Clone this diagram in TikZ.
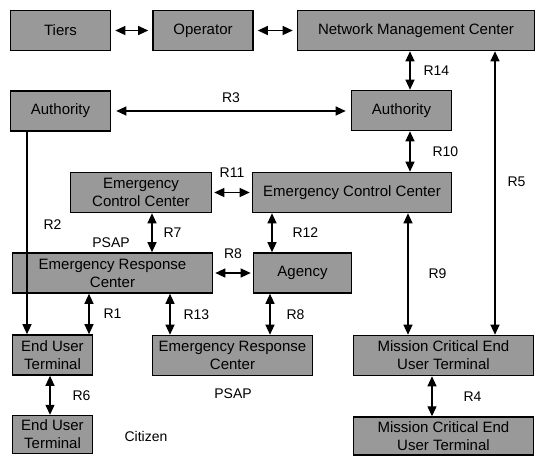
\documentclass[tikz,border=0pt]{standalone}
\usepackage{fontspec}
\setmainfont{Liberation Sans}
\usetikzlibrary{positioning,arrows.meta}
\newcommand\diafont{\fontsize{15}{18}\selectfont}
\newcommand\lblfont{\fontsize{14}{16}\selectfont}

\begin{document}
\begin{tikzpicture}
[x=1pt,y=-1pt,
 box/.style={draw,line width=1.6pt,fill=black!40,inner sep=0pt,align=center,
   minimum height=40pt,font=\diafont},
 lbl/.style={inner sep=0pt,font=\lblfont},
 dbl/.style={line width=1.2pt,{Triangle[length=10pt,width=9pt]}-{Triangle[length=10pt,width=9pt]}},
 one/.style={line width=1.2pt,-{Triangle[length=10pt,width=9pt]}},
 gap/.style={shorten <=4pt,shorten >=4pt}]
\useasboundingbox (0,0) rectangle (544,456);
\node[box,minimum width=100pt](tiers) at (60.5,30.5){Tiers};
\node[box,minimum width=100pt](oper) at (203,30.5){Operator};
\node[box,minimum width=237pt](nmc) at (416,30.5){Network Management Center};
\node[box,minimum width=100pt](authL) at (60.5,111){Authority};
\node[box,minimum width=100pt](authR) at (401.5,110.5){Authority};
\node[box,minimum width=141pt](eccL) at (141,192.5){Emergency\\Control Center};
\node[box,minimum width=199pt](eccR) at (352,192.5){Emergency Control Center};
\node[box,minimum width=200pt](ercU) at (112.5,273){Emergency Response\\Center};
\node[box,minimum width=98pt](agency) at (302.5,273){Agency};
\node[box,minimum width=80pt](eutU) at (52.5,355){End User\\Terminal};
\node[box,minimum width=160pt](ercL) at (232.5,355.5){Emergency Response\\Center};
\node[box,minimum width=180pt](mcU) at (443.5,355.5){Mission Critical End\\User Terminal};
\node[box,minimum width=80pt,minimum height=38pt,below=39pt of eutU](eutL){End User\\Terminal};
\node[box,minimum width=180pt,minimum height=38pt,below=40pt of mcU](mcL){Mission Critical End\\User Terminal};
\node[lbl](psapU) at (111,243){PSAP};
\node[lbl](psapL) at (233,394){PSAP};
\node[lbl](citizen) at (146,436){Citizen};
% connection points
\coordinate (r14) at ([xshift=8.5pt]authR.north);
\coordinate (r10) at ([xshift=8.5pt]authR.south);
\coordinate (r9) at ([xshift=-35.5pt]mcU.north);
\coordinate (r5) at ([xshift=51.5pt]mcU.north);
\coordinate (r4) at ([xshift=-11.5pt]mcU.south);
\coordinate (r2) at ([xshift=-33.5pt]authL.south);
\coordinate (r7) at ([xshift=11pt]eccL.south);
\coordinate (r12) at ([xshift=-80pt]eccR.south);
\coordinate (r1) at ([xshift=-23.5pt]ercU.south);
\coordinate (r13) at ([xshift=57.5pt]ercU.south);
\coordinate (r8) at ([xshift=-32.5pt]agency.south);
\coordinate (r6) at ([xshift=-2.5pt]eutU.south);
\draw[dbl,gap] (tiers) -- (oper);
\draw[dbl,gap] (oper) -- (nmc);
\draw[dbl] (r14 |- nmc.south) -- node[lbl,right=13pt]{R14} (r14);
\draw[dbl,shorten <=5pt,shorten >=5pt] (authL.east) -- node[lbl,above=8pt]{R3} (authL.east -| authR.west);
\draw[dbl] (r10) -- node[lbl,right=22pt]{R10} (r10 |- eccR.north);
\draw[dbl] (r5 |- nmc.south) -- node[lbl,pos=0.46,right=12pt]{R5} (r5);
\draw[one] (r2) -- node[lbl,pos=0.46,right=16pt]{R2} (r2 |- eutU.north);
\draw[dbl,shorten <=2pt,shorten >=2pt] (eccL) -- node[lbl,above=14pt]{R11} (eccR);
\draw[dbl] (r7) -- node[lbl,right=11pt]{R7} (r7 |- ercU.north);
\draw[dbl] (r12) -- node[lbl,right=20pt]{R12} (r12 |- agency.north);
\draw[dbl,shorten <=2pt,shorten >=2pt] (ercU) -- node[lbl,above=14pt]{R8} (agency);
\draw[dbl] (r9 |- eccR.south) -- node[lbl,right=20pt]{R9} (r9);
\draw[dbl] (r1) -- node[lbl,right=14pt]{R1} (r1 |- eutU.north);
\draw[dbl] (r13) -- node[lbl,right=13pt]{R13} (r13 |- ercL.north);
\draw[dbl] (r8) -- node[lbl,right=16pt]{R8} (r8 |- ercL.north);
\draw[dbl] (r6) -- node[lbl,right=22pt]{R6} (r6 |- eutL.north);
\draw[dbl] (r4) -- node[lbl,right=31pt]{R4} (r4 |- mcL.north);
\end{tikzpicture}
\end{document}
